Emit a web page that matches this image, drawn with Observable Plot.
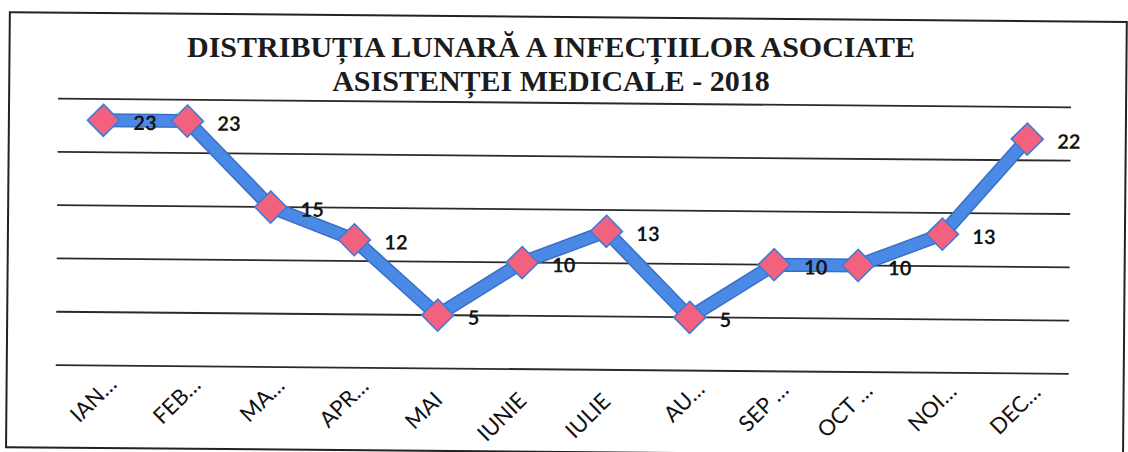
<!DOCTYPE html>
<html>
<head>
<meta charset="utf-8">
<script src="https://cdn.jsdelivr.net/npm/d3@7"></script>
<script src="https://cdn.jsdelivr.net/npm/@observablehq/plot@0.6"></script>
<style>
  html, body { margin: 0; padding: 0; background: #fff; overflow: hidden; }
  #page { position: relative; width: 1128px; height: 452px; }
  #wrap { position: absolute; left: 0; top: 0; width: 1128px; height: 452px; transform: rotate(0.5deg); transform-origin: 564px 226px; }
  #frame { position: absolute; left: 7px; top: 16px; width: 1115px; height: 433px; border: 2px solid #222; box-sizing: content-box; }
  .title { position: absolute; left: 0; width: 1102px; text-align: center;
           font-family: "Liberation Serif", "Times New Roman", serif; font-weight: bold; font-size: 30px;
           line-height: 28px; height: 28px; color: #1c1c1c; white-space: nowrap; }
  #t1 { top: 32.5px; }
  #t2 { top: 66.5px; }
  #chart { position: absolute; left: 0; top: 0; }
</style>
</head>
<body>
<div id="page">
  <div id="wrap">
    <div id="frame"></div>
    <div id="chart"></div>
  </div>
  <div class="title" id="t1">DISTRIBUȚIA LUNARĂ A INFECȚIILOR ASOCIATE</div>
  <div class="title" id="t2">ASISTENȚEI MEDICALE - 2018</div>
</div>
<script>
const months = ["IAN…", "FEB…", "MA…", "APR…", "MAI", "IUNIE", "IULIE", "AU…", "SEP …", "OCT …", "NOI…", "DEC…"];
const values = [23, 23, 15, 12, 5, 10, 13, 5, 10, 10, 13, 22];
const yTicks = [0, 5, 10, 15, 20, 25];

const data = months.map((m, i) => ({month: m, value: values[i]}));
const truncated = months.filter(m => m.includes("…"));
const full = months.filter(m => !m.includes("…"));

const axisFont = {fontSize: 22, fontFamily: "Lato, sans-serif", fill: "#111", label: null, tickSize: 0, tickRotate: -45};

const chart = Plot.plot({
  width: 1128,
  height: 452,
  marginLeft: 57,
  marginRight: 58,
  marginTop: 102.5,
  marginBottom: 83,
  style: {background: "transparent", overflow: "visible"},
  x: {type: "band", domain: months, padding: 0},
  y: {domain: [0, 25]},
  marks: [
    Plot.ruleY(yTicks, {stroke: "#2a2a2a", strokeWidth: 1.8}),
    Plot.axisX({...axisFont, ticks: truncated, tickPadding: 15, dx: 12}),
    Plot.axisX({...axisFont, ticks: full, tickPadding: 28, dx: 2}),
    Plot.axisY({ticks: [], label: null, tickSize: 0}),
    Plot.line(data, {x: "month", y: "value", stroke: "#3a6fc6", strokeWidth: 14, strokeLinejoin: "miter"}),
    Plot.line(data, {x: "month", y: "value", stroke: "#4a8ae6", strokeWidth: 11, strokeLinejoin: "miter"}),
    Plot.dot(data, {x: "month", y: "value", symbol: "diamond2", r: 14.4, fill: "#f2627e", stroke: "#3f7bd6", strokeWidth: 1.6}),
    Plot.text(data, {x: "month", y: "value", text: d => String(d.value), dx: 30, dy: 3, textAnchor: "start",
                     fontSize: 20, fontFamily: "Lato, sans-serif", fontWeight: "bold", fill: "#141414"})
  ]
});
document.getElementById("chart").appendChild(chart);
</script>
</body>
</html>
